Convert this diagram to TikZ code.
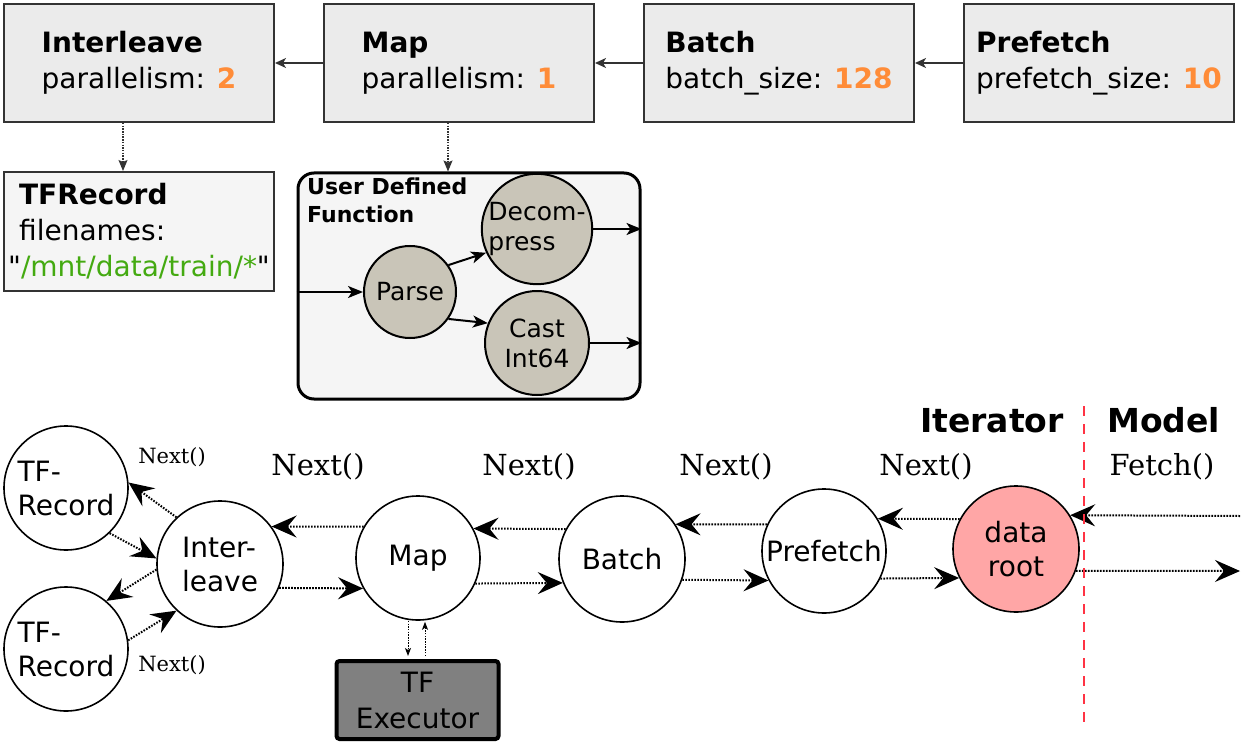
\documentclass[tikz,border=0pt]{standalone}
\usepackage{fontspec}
\setmainfont{DejaVu Sans}
\newfontfamily\nextfont{DejaVu Serif}
\newfontfamily\quotefont{DejaVu Sans}[Ligatures=TeXOff]
\usetikzlibrary{arrows.meta,calc}
\definecolor{boxfill}{HTML}{EBEBEB}
\definecolor{boxline}{HTML}{333333}
\definecolor{lightfill}{HTML}{F5F5F5}
\definecolor{udfcirc}{HTML}{C9C5B8}
\definecolor{numorange}{HTML}{FF8C38}
\definecolor{pathgreen}{HTML}{44AA11}
\definecolor{rootpink}{HTML}{FFA6A6}
\definecolor{execgray}{HTML}{808080}
\definecolor{divred}{HTML}{FF3344}
\begin{document}
\begin{tikzpicture}[x=1pt,y=-1pt,
  topbox/.style={draw=boxline,line width=2pt,fill=boxfill,minimum width=270pt,minimum height=118pt,
    align=left,inner sep=0pt,font=\fontsize{28}{36}\selectfont},
  recbox/.style={draw=boxline,line width=2pt,fill=lightfill,minimum width=270pt,minimum height=119pt,
    align=left,inner sep=0pt,font=\fontsize{28}{36}\selectfont},
  udfbox/.style={draw=black,line width=3pt,fill=lightfill,rounded corners=16pt,minimum width=342pt,minimum height=226pt,inner sep=0pt},
  udfnode/.style={circle,draw=black,line width=2pt,fill=udfcirc,inner sep=0pt,font=\fontsize{25}{30}\selectfont},
  itnode/.style={circle,draw=black,line width=1.6pt,fill=white,minimum size=124pt,inner sep=0pt,font=\fontsize{28}{34}\selectfont},
  toparrow/.style={draw=boxline,line width=1.5pt,-{Stealth[length=11pt,width=10pt,inset=3pt]}},
  vdot/.style={draw=boxline,line width=1.2pt,dash pattern=on 1.5pt off 1.2pt,-{Stealth[length=11pt,width=9pt,inset=2pt]}},
  udfarrow/.style={draw=black,line width=2pt,-{Stealth[length=15pt,width=12pt,inset=4pt]}},
  chain/.style={draw=black,line width=2pt,dash pattern=on 1.6pt off 1.4pt,-{Stealth[length=25pt,width=22pt,inset=9pt]}},
  tinyarrow/.style={draw=black,line width=1pt,dash pattern=on 1.5pt off 1.2pt,-{Stealth[length=8pt,width=6pt,inset=2pt]}},
  nextlbl/.style={font=\nextfont\fontsize{29}{32}\selectfont,inner sep=0pt},
  smallnext/.style={font=\nextfont\fontsize{21}{24}\selectfont,inner sep=0pt},
  headlbl/.style={font=\bfseries\fontsize{33}{36}\selectfont,inner sep=0pt}
]
\useasboundingbox (0,0) rectangle (1241,746);

% ---- top pipeline boxes ----
\node[topbox] (bInter) at (139,63) {{\bfseries Interleave}\\parallelism: {\bfseries\color{numorange}2}};
\node[topbox] (bMap) at (459,63) {{\bfseries Map}\\parallelism: {\bfseries\color{numorange}1}};
\node[topbox] (bBatch) at (779,63) {{\bfseries Batch}\\batch\_size: {\bfseries\color{numorange}128}};
\node[topbox] (bPref) at (1099,63) {{\bfseries Prefetch}\\prefetch\_size: {\bfseries\color{numorange}10}};
\draw[toparrow] (bMap.west) -- (bInter.east);
\draw[toparrow] (bBatch.west) -- (bMap.east);
\draw[toparrow] (bPref.west) -- (bBatch.east);

% ---- TFRecord box ----
\node[recbox] (tfrec) at (139,231.5) {\hspace*{11pt}{\bfseries TFRecord}\\\hspace*{11pt}filenames:\\{\quotefont"}{\color{pathgreen}/mnt/data/train/*}{\quotefont"}};
\draw[vdot] ([xshift=-16pt]bInter.south) -- ([xshift=-16pt]bInter.south |- tfrec.north);

% ---- UDF box ----
\node[udfbox] (udf) at (469,286) {};
\node[font=\bfseries\fontsize{22}{28}\selectfont,align=left,anchor=north west,inner sep=0pt] (udftitle) at (307,178) {User Defined\\Function};
\draw[vdot] ([xshift=-11pt]bMap.south) -- ([xshift=-11pt]bMap.south |- udf.north);
\node[udfnode,minimum size=92pt] (parse) at (410,292) {Parse};
\node[udfnode,minimum size=102pt,align=left] (decomp) at (537,229) {Decom-\\press};
\node[udfnode,minimum size=104pt,align=center] (cast) at (537,343) {Cast\\Int64};
\draw[udfarrow] (udf.west |- parse.west) -- (parse.west);
\draw[udfarrow] (parse.35) -- (decomp.205);
\draw[udfarrow] (parse.-35) -- (cast.158);
\draw[udfarrow] (decomp.east) -- (udf.east |- decomp.east);
\draw[udfarrow] (cast.east) -- (udf.east |- cast.east);

% ---- iterator chain ----
\node[itnode,align=left] (rec1) at (66,488) {TF-\\Record};
\node[itnode,align=left] (rec2) at (66,649) {TF-\\Record};
\node[itnode,align=left,minimum size=126pt] (inter) at (220,564) {Inter-\\leave};
\node[itnode] (map) at (418,558) {Map};
\node[itnode,minimum size=126pt] (batch) at (622,559) {Batch};
\node[itnode] (pref) at (824,551) {Prefetch};
\node[itnode,fill=rootpink,minimum size=126pt,align=center] (root) at (1016,549) {data\\root};

\node[draw=black,line width=4pt,fill=execgray,rounded corners=3pt,minimum width=162pt,minimum height=78pt,
  align=center,inner sep=0pt,font=\fontsize{28}{36}\selectfont] (exec) at (417.5,700) {TF\\Executor};

\draw[chain] (inter.133) -- (rec1.5);
\draw[chain] (rec1.-46) -- (inter.175);
\draw[chain] (inter.185) -- (rec2.50);
\draw[chain] (rec2.8) -- (inter.227);

\draw[chain] (map.150) -- (inter.36);
\draw[chain] (inter.-22) -- (map.209);
\draw[chain] (batch.152) -- (map.28);
\draw[chain] (map.-24) -- (batch.202);
\draw[chain] (pref.155) -- (batch.33);
\draw[chain] (batch.-19) -- (pref.208);
\draw[chain] (root.152) -- (pref.31);
\draw[chain] (pref.-26) -- (root.207);

\coordinate (mIn) at (1240,516);
\coordinate (mOut) at (1240,571);
\draw[chain] (mIn) -- (root.32);
\draw[chain] (root.-20) -- (mOut);

\draw[tinyarrow] ([xshift=-10pt]map.south) -- ([xshift=-10pt,yshift=3pt]map.south |- exec.north);
\draw[tinyarrow] ([xshift=7pt,yshift=3pt]map.south |- exec.north) -- ([xshift=7pt,yshift=-1pt]map.south);

% ---- divider and labels ----
\coordinate (divTop) at (1084,406);
\coordinate (divBot) at (1084,728);
\draw[divred,line width=2.5pt,dash pattern=on 10pt off 8pt] (divTop) -- (divBot);
\node[headlbl,anchor=base east] (itlbl) at (1064,432) {Iterator};
\node[headlbl,anchor=base west] (modlbl) at (1107,432) {Model};

\node[nextlbl] (n1) at (318,467) {Next()};
\node[nextlbl] (n2) at (529,467) {Next()};
\node[nextlbl] (n3) at (726,467) {Next()};
\node[nextlbl] (n4) at (926,467) {Next()};
\node[nextlbl] (fetch) at (1162,467) {Fetch()};
\node[smallnext] (sn1) at (172,457) {Next()};
\node[smallnext] (sn2) at (172,665) {Next()};
\end{tikzpicture}
\end{document}
